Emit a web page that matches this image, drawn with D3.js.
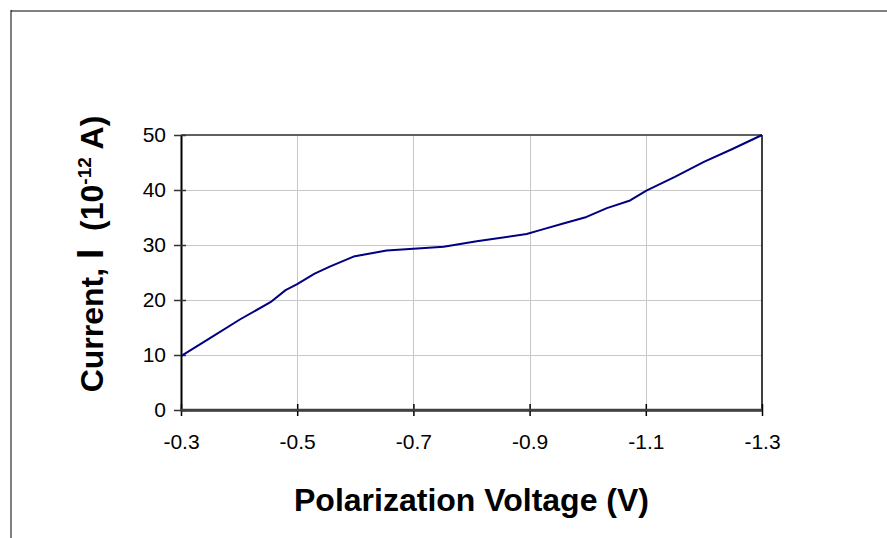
<!DOCTYPE html>
<html>
<head>
<meta charset="utf-8">
<script src="https://cdn.jsdelivr.net/npm/d3@7/dist/d3.min.js"></script>
<style>
  html, body { margin: 0; padding: 0; background: #fff; }
  svg { display: block; font-family: "Liberation Sans", Arial, sans-serif; }
</style>
</head>
<body>
<svg id="chart" width="887" height="538"></svg>
<script>
// Polarization voltage (V) and measured current (10^-12 A)
const voltage = [-0.300, -0.352, -0.402, -0.454, -0.480, -0.500, -0.530, -0.557, -0.597,
                 -0.654, -0.700, -0.752, -0.809, -0.895, -0.918, -0.958, -0.998, -1.033,
                 -1.073, -1.101, -1.150, -1.200, -1.250, -1.300];
const current = [9.8, 13.2, 16.5, 19.6, 21.8, 22.9, 24.8, 26.1, 27.9,
                 29.0, 29.3, 29.7, 30.7, 32.0, 32.7, 33.9, 35.1, 36.7,
                 38.1, 39.9, 42.4, 45.1, 47.5, 50.0];

const xTicks = [-0.3, -0.5, -0.7, -0.9, -1.1, -1.3];
const xTickLabels = ["-0.3", "-0.5", "-0.7", "-0.9", "-1.1", "-1.3"];
const yTicks = [0, 10, 20, 30, 40, 50];
const yTickLabels = ["0", "10", "20", "30", "40", "50"];

const svg = d3.select("#chart");
const plot = { left: 181, right: 762, top: 135, bottom: 410 };

const x = d3.scaleLinear().domain([-0.3, -1.3]).range([plot.left, plot.right]);
const y = d3.scaleLinear().domain([0, 50]).range([plot.bottom, plot.top]);

// outer chart frame (only top and left edges fall inside the window)
svg.append("line").attr("x1", 11).attr("x2", 887).attr("y1", 11).attr("y2", 11)
  .attr("stroke", "#808080").attr("stroke-width", 2);
svg.append("line").attr("x1", 11).attr("x2", 11).attr("y1", 10).attr("y2", 538)
  .attr("stroke", "#000").attr("stroke-width", 1);

// gridlines
const grid = svg.append("g");
grid.selectAll("line.h").data(yTicks.slice(1, -1)).join("line")
  .attr("x1", plot.left).attr("x2", plot.right)
  .attr("y1", d => Math.round(y(d)) + 0.5).attr("y2", d => Math.round(y(d)) + 0.5)
  .attr("stroke", "#c8c8c8").attr("stroke-width", 1);
grid.selectAll("line.v").data(xTicks.slice(1, -1)).join("line")
  .attr("y1", plot.top).attr("y2", plot.bottom)
  .attr("x1", d => Math.round(x(d)) + 0.5).attr("x2", d => Math.round(x(d)) + 0.5)
  .attr("stroke", "#c8c8c8").attr("stroke-width", 1);

// plot area border: top and right
svg.append("line").attr("x1", plot.left).attr("x2", plot.right)
  .attr("y1", plot.top).attr("y2", plot.top)
  .attr("stroke", "#606060").attr("stroke-width", 2);
svg.append("line").attr("x1", plot.right).attr("x2", plot.right)
  .attr("y1", plot.top).attr("y2", plot.bottom)
  .attr("stroke", "#000").attr("stroke-width", 1.5);

// axes
const xAxis = d3.axisBottom(x).tickValues(xTicks)
  .tickFormat((d, i) => xTickLabels[i]).tickSizeInner(6).tickSizeOuter(0).tickPadding(18);
const gx = svg.append("g").attr("transform", `translate(0,${plot.bottom})`).call(xAxis);
gx.select(".domain").attr("stroke", "#404040").attr("stroke-width", 2.5);
gx.selectAll(".tick line").attr("stroke", "#000").attr("stroke-width", 1.5).attr("y1", -6);
gx.selectAll(".tick text").attr("font-size", 21).attr("fill", "#000")
  .attr("font-family", "Liberation Sans, Arial, sans-serif");

const yAxis = d3.axisLeft(y).tickValues(yTicks)
  .tickFormat((d, i) => yTickLabels[i]).tickSizeInner(6).tickSizeOuter(0).tickPadding(9);
const gy = svg.append("g").attr("transform", `translate(${plot.left},0)`).call(yAxis);
gy.select(".domain").attr("stroke", "#000").attr("stroke-width", 2);
gy.selectAll(".tick line").attr("stroke", "#333").attr("stroke-width", 1.5).attr("x2", -7).attr("x1", 5);
gy.selectAll(".tick text").attr("font-size", 21).attr("fill", "#000")
  .attr("font-family", "Liberation Sans, Arial, sans-serif");

// re-draw bottom axis line on top of the left axis end
svg.append("line").attr("x1", plot.left - 1).attr("x2", plot.right)
  .attr("y1", plot.bottom).attr("y2", plot.bottom)
  .attr("stroke", "#404040").attr("stroke-width", 2.5);

// current curve
const pts = voltage.map((v, i) => [v, current[i]]);
svg.append("path").datum(pts)
  .attr("fill", "none").attr("stroke", "#000080").attr("stroke-width", 2)
  .attr("stroke-linejoin", "round")
  .attr("d", d3.line().x(d => x(d[0])).y(d => y(d[1])));

// axis titles
svg.append("text")
  .attr("x", (plot.left + plot.right) / 2).attr("y", 511)
  .attr("text-anchor", "middle").attr("font-size", 32).attr("font-weight", "bold")
  .text("Polarization Voltage (V)");

const yt = svg.append("text")
  .attr("transform", "translate(103,254) rotate(-90)")
  .attr("text-anchor", "middle").attr("font-size", 32).attr("font-weight", "bold");
yt.append("tspan").text("Current, ");
yt.append("tspan").attr("font-size", 37).text("I");
yt.append("tspan").text("\u00a0 (10");
yt.append("tspan").attr("font-size", 19).attr("dy", -12).text("-12");
yt.append("tspan").attr("dy", 12).text(" A)");
</script>
</body>
</html>
